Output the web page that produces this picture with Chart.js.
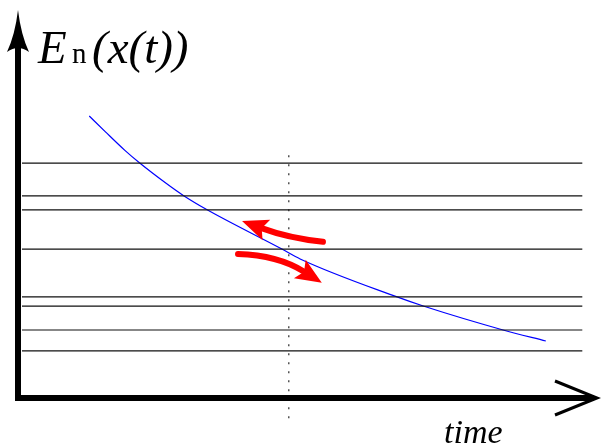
<!DOCTYPE html>
<html>
<head>
  <meta charset="UTF-8" />
  <script src="https://cdn.jsdelivr.net/npm/chart.js"></script>
  <style>
    body { margin: 0; background: white; }
    .wrap { position: relative; width: 601px; height: 448px; }
    .lbl {
      position: absolute;
      font-size: 24px;
      line-height: 1;
      white-space: nowrap;
      color: #000;
      transform-origin: 0 20.1px;
    }
  </style>
</head>
<body>
  <div class="wrap">
    <canvas id="chart" width="601" height="448"></canvas>
    <div class="lbl" id="yE" style="font-family:'Liberation Serif'; left:38px; top:43px; transform:scale(1.958)"><i></i></div>
    <div class="lbl" id="yN" style="font-family:'Liberation Serif'; left:72px; top:43px; transform:scale(1.208)"></div>
    <div class="lbl" id="yR" style="font-family:'Liberation Serif'; left:92px; top:43px; transform:scale(1.958)"><i></i></div>
    <div class="lbl" id="xlab" style="font-family:'Liberation Serif'; left:444px; top:423px; transform:scale(1.417)"><i></i></div>
  </div>
  <script>
    // energy levels (horizontal lines)
    const levels = [6.18, 5.32, 4.95, 3.92, 2.66, 2.42, 1.79, 1.24];
    const levelRange = [0.07, 9.9];

    // E(x(t)) curve
    const curveX = [1.25, 1.53, 1.88, 2.13, 2.58, 2.90, 3.31, 4.63, 4.95, 6.65, 7.11, 8.51, 9.26];
    const curveY = [7.42, 7.01, 6.51, 6.19, 5.67, 5.33, 4.96, 3.92, 3.66, 2.66, 2.42, 1.79, 1.50];

    // dotted time marker
    const markerX = 4.75;
    const markerY = [-0.53, 6.47];

    // red arrows: tail, control, tip
    const arrows = [
      [[5.35, 4.11], [4.74, 4.21], [3.93, 4.66]],
      [[3.86, 3.79], [4.56, 3.76], [5.33, 3.03]]
    ];

    const yLabel = "E";
    const yLabelSub = "n";
    const yLabelRest = "(x(t))";
    const xLabel = "time";

    document.querySelector("#yE i").textContent = yLabel;
    document.getElementById("yN").textContent = yLabelSub;
    document.querySelector("#yR i").textContent = yLabelRest;
    document.querySelector("#xlab i").textContent = xLabel;

    const datasets = levels.map(l => ({
      data: [{ x: levelRange[0], y: l }, { x: levelRange[1], y: l }],
      borderColor: "#111",
      borderWidth: 1.2,
      pointRadius: 0
    }));
    datasets.push({
      data: curveX.map((x, i) => ({ x: x, y: curveY[i] })),
      borderColor: "#0000ff",
      borderWidth: 1.2,
      pointRadius: 0,
      cubicInterpolationMode: "monotone"
    });
    datasets.push({
      data: markerY.map(y => ({ x: markerX, y: y })),
      borderColor: "#555",
      borderWidth: 1.5,
      borderDash: [2, 7],
      pointRadius: 0,
      clip: false
    });

    const decor = {
      id: "decor",
      afterDraw(chart) {
        const ctx = chart.ctx;
        const sx = chart.scales.x, sy = chart.scales.y;
        const x0 = sx.getPixelForValue(0), y0 = sy.getPixelForValue(0);
        ctx.save();

        // red arrows
        ctx.strokeStyle = "#ff0000";
        ctx.fillStyle = "#ff0000";
        arrows.forEach(a => {
          const p = a.map(v => [sx.getPixelForValue(v[0]), sy.getPixelForValue(v[1])]);
          const dx = p[2][0] - p[1][0], dy = p[2][1] - p[1][1];
          const len = Math.hypot(dx, dy);
          const ux = dx / len, uy = dy / len;
          const hl = 26, hw = 11;
          const bx = p[2][0] - ux * hl * 0.8, by = p[2][1] - uy * hl * 0.8;
          ctx.lineWidth = 6;
          ctx.lineCap = "round";
          ctx.beginPath();
          ctx.moveTo(p[0][0], p[0][1]);
          ctx.quadraticCurveTo(p[1][0], p[1][1], bx, by);
          ctx.stroke();
          const hx = p[2][0] - ux * hl, hy = p[2][1] - uy * hl;
          ctx.beginPath();
          ctx.moveTo(p[2][0], p[2][1]);
          ctx.lineTo(hx - uy * hw, hy + ux * hw);
          ctx.lineTo(hx + ux * 5, hy + uy * 5);
          ctx.lineTo(hx + uy * hw, hy - ux * hw);
          ctx.closePath();
          ctx.fill();
        });

        // axes
        ctx.strokeStyle = "#000";
        ctx.fillStyle = "#000";
        ctx.lineCap = "butt";
        ctx.lineWidth = 6;
        ctx.beginPath();
        ctx.moveTo(x0, 40);
        ctx.lineTo(x0, y0 + 3);
        ctx.moveTo(x0 - 3, y0);
        ctx.lineTo(594, y0);
        ctx.stroke();
        // vertical arrow head
        ctx.beginPath();
        ctx.moveTo(x0, 10);
        ctx.quadraticCurveTo(x0 - 3, 35, x0 - 11, 52);
        ctx.quadraticCurveTo(x0, 44, x0 + 11, 52);
        ctx.quadraticCurveTo(x0 + 3, 35, x0, 10);
        ctx.fill();
        // horizontal open arrow head
        ctx.lineWidth = 3;
        ctx.beginPath();
        ctx.moveTo(555, y0 - 17);
        ctx.lineTo(597, y0);
        ctx.lineTo(555, y0 + 17);
        ctx.stroke();
        ctx.restore();
      }
    };

    new Chart(document.getElementById("chart"), {
      type: "line",
      data: { datasets: datasets },
      options: {
        responsive: false,
        animation: false,
        layout: { padding: { left: 18, top: 18, right: 13, bottom: 50 } },
        scales: {
          x: { type: "linear", min: 0, max: 10, display: false },
          y: { type: "linear", min: 0, max: 10, display: false }
        },
        plugins: { legend: { display: false }, tooltip: { enabled: false } }
      },
      plugins: [decor]
    });
  </script>
</body>
</html>
